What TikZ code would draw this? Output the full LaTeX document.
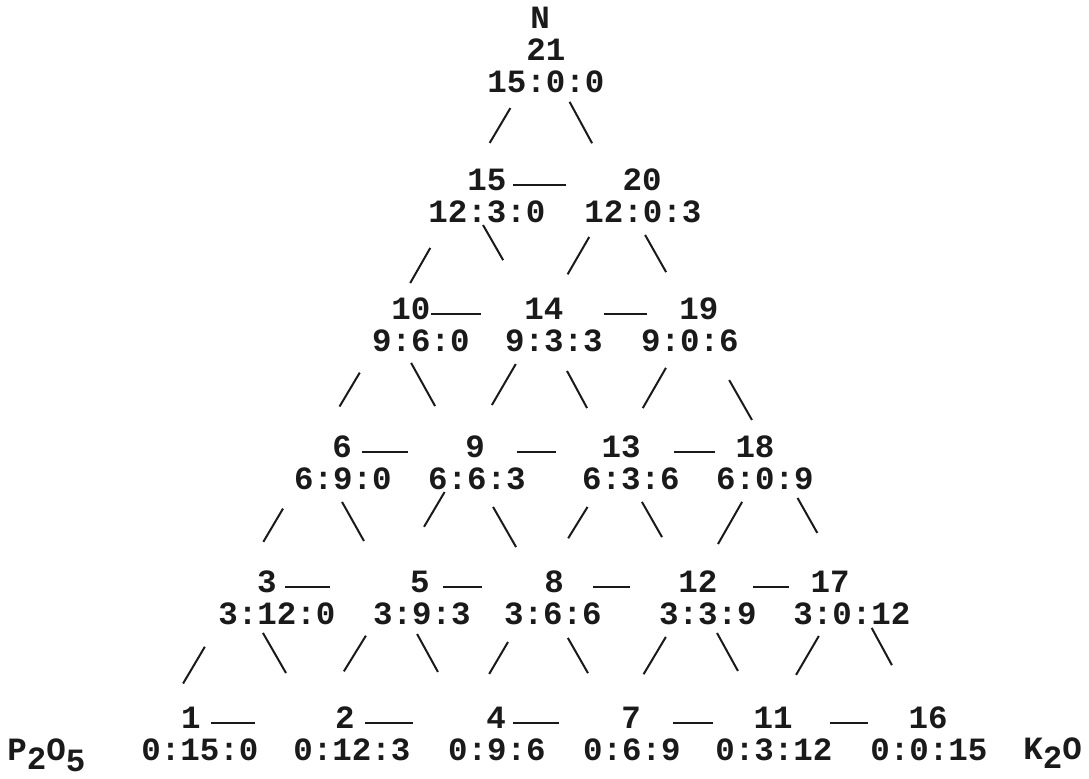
\documentclass[tikz,border=0pt]{standalone}
\usepackage{fontspec}
\setmonofont{Liberation Mono}
\definecolor{ink}{HTML}{1A1A1A}
\definecolor{paper}{HTML}{FFFFFF}

\begin{document}
\begin{tikzpicture}[x=0.5pt,y=-0.5pt,
  every node/.style={inner sep=0pt,text=ink,font=\ttfamily\bfseries\fontsize{16.25}{18}\selectfont},
  dashline/.style={draw=ink,line width=1pt},
  slantline/.style={draw=ink,line width=1pt}]
  \fill[paper] (0,0) rectangle (1089,778);

  \node (lblN) at (540,18) {N};
  \foreach \n/\xa/\xb/\y/\lab in {21/546/546/50/15:0:0,
      15/487/487/180/12:3:0, 20/642/643/180/12:0:3,
      10/411/421/309/9:6:0, 14/544/554/309/9:3:3, 19/699/690/309/9:0:6,
      6/342/343/447/6:9:0, 9/475/477/447/6:6:3, 13/621/631/447/6:3:6, 18/755/765/447/6:0:9,
      3/267/277/582/3:12:0, 5/420/422/582/3:9:3, 8/554/553/582/3:6:6, 12/698/708/582/3:3:9, 17/830/852/582/3:0:12,
      1/191/200/718/0:15:0, 2/345/352/718/0:12:3, 4/496/497/718/0:9:6, 7/631/632/718/0:6:9, 11/773/774/718/0:3:12, 16/928/929/718/0:0:15} {
    \node (num\n) at (\xa,\y) {\n};
    \node (rat\n) at (\xb,\y+32) {\lab};
  }
  \node[anchor=base west] (lblP) at (7,760) {P\raisebox{-.3em}{2}O\raisebox{-.34em}{5}};
  \node[anchor=base west] (lblK) at (1023,759) {K\raisebox{-.28em}{2}O};

  \foreach \a/\b/\s/\t in {15/20/3/28, 10/14/0/21.5, 14/19/20/16,
      6/9/5/28.5, 9/13/16/22.5, 13/18/16.5/10,
      3/5/4/40, 5/8/6.5/31, 8/12/14.5/24, 12/17/17.5/10.5,
      1/2/5/40, 2/4/5/36.5, 4/7/3.5/31, 7/11/16/20, 11/16/18.5/20}
    \draw[dashline,shorten <=\s pt,shorten >=\t pt] ([yshift=-2.5pt]num\a.east) -- ([yshift=-2.5pt]num\b.west);

  \foreach \u/\au/\l/\al/\s/\t in {21/203/15/160/8.5/33.5, 15/195/10/163/14.1/26.8, 20/194/14/148/7.8/31.9,
      10/193/6/164/11.8/35.5, 14/200/9/152/6.7/36.2, 19/217/13/153/8.9/34.3,
      6/193/3/167/10.6/35.3, 9/200/5/165/0.9/44, 13/199/8/155/9.7/37.8, 18/215/12/154/6.6/33.7,
      3/190/1/167/13/32, 5/192/2/167/6.6/39.5, 8/198/4/166/9.6/37.5, 12/198/7/157/6.7/37.5, 17/203/11/143/6.1/36.9,
      21/329/20/150/4.8/32.6, 15/247/14/134/0.9/40, 20/249/19/53/6.6/33,
      10/216/9/124/6/35.2, 14/285/13/136/10.5/33.8, 19/334/18/39/15.9/27.4,
      6/237/5/154/6.6/35.3, 9/300/8/114/9.5/32, 13/291/12/127/6.6/37.7, 18/338/17/68/4.3/40,
      3/212/2/158/4.3/37.8, 5/230/4/153/4.9/38, 8/304/7/120/7.2/37.7, 12/293/11/84/4.3/38.6, 17/328/16/76/1.4/41.8}
    \draw[slantline,shorten <=\s pt,shorten >=\t pt] (rat\u.\au) -- (rat\l.\al);
\end{tikzpicture}
\end{document}
